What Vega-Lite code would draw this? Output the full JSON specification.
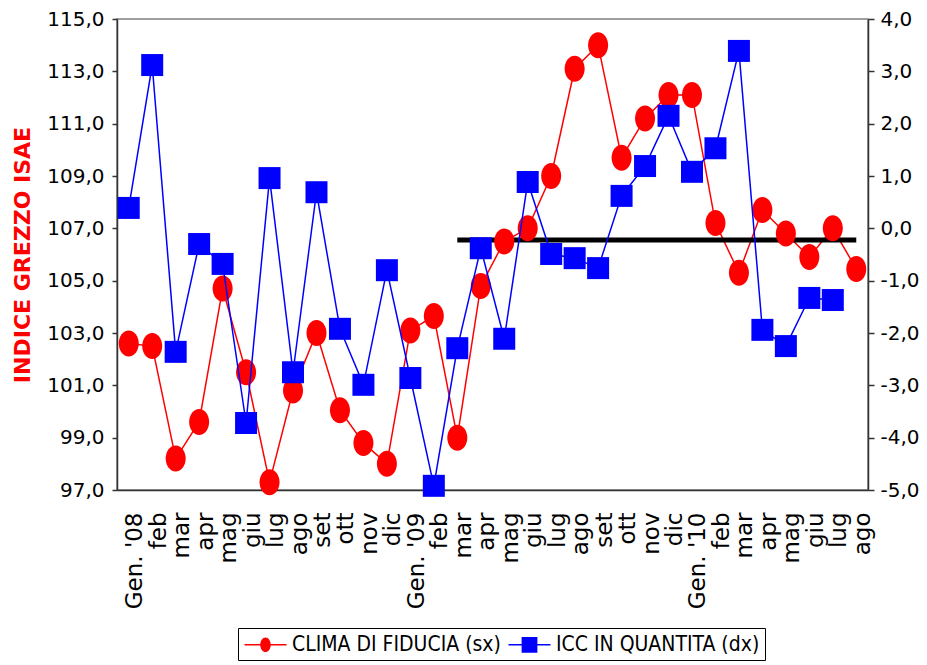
{
  "$schema": "https://vega.github.io/schema/vega-lite/v6.json",
  "width": 751,
  "height": 471,
  "autosize": "none",
  "padding": {"left": 117, "top": 19, "right": 59, "bottom": 175},
  "background": "white",
  "config": {
    "view": {"stroke": "#808080", "strokeWidth": 1.5},
    "font": "DejaVu Sans",
    "axis": {"grid": false, "domainColor": "#333333", "tickColor": "#333333", "labelColor": "black", "labelFont": "DejaVu Sans", "labelFontSize": 20, "domainWidth": 1.5, "tickWidth": 1.5}
  },
  "datasets": {
    "serie": [
      {"mese": "Gen. '08", "clima": 102.6, "icc": 0.39},
      {"mese": "feb_08", "clima": 102.5, "icc": 3.12},
      {"mese": "mar_08", "clima": 98.2, "icc": -2.36},
      {"mese": "apr_08", "clima": 99.6, "icc": -0.30},
      {"mese": "mag_08", "clima": 104.7, "icc": -0.68},
      {"mese": "giu_08", "clima": 101.5, "icc": -3.72},
      {"mese": "lug_08", "clima": 97.3, "icc": 0.96},
      {"mese": "ago_08", "clima": 100.8, "icc": -2.75},
      {"mese": "set_08", "clima": 103.0, "icc": 0.69},
      {"mese": "ott_08", "clima": 100.05, "icc": -1.92},
      {"mese": "nov_08", "clima": 98.8, "icc": -2.99},
      {"mese": "dic_08", "clima": 98.0, "icc": -0.80},
      {"mese": "Gen. '09", "clima": 103.1, "icc": -2.86},
      {"mese": "feb_09", "clima": 103.65, "icc": -4.92},
      {"mese": "mar_09", "clima": 99.0, "icc": -2.29},
      {"mese": "apr_09", "clima": 104.8, "icc": -0.38},
      {"mese": "mag_09", "clima": 106.5, "icc": -2.11},
      {"mese": "giu_09", "clima": 107.0, "icc": 0.885},
      {"mese": "lug_09", "clima": 109.0, "icc": -0.49},
      {"mese": "ago_09", "clima": 113.1, "icc": -0.57},
      {"mese": "set_09", "clima": 114.0, "icc": -0.76},
      {"mese": "ott_09", "clima": 109.7, "icc": 0.62},
      {"mese": "nov_09", "clima": 111.2, "icc": 1.19},
      {"mese": "dic_09", "clima": 112.1, "icc": 2.15},
      {"mese": "Gen. '10", "clima": 112.1, "icc": 1.08},
      {"mese": "feb_10", "clima": 107.2, "icc": 1.53},
      {"mese": "mar_10", "clima": 105.3, "icc": 3.39},
      {"mese": "apr_10", "clima": 107.7, "icc": -1.94},
      {"mese": "mag_10", "clima": 106.8, "icc": -2.25},
      {"mese": "giu_10", "clima": 105.9, "icc": -1.33},
      {"mese": "lug_10", "clima": 107.0, "icc": -1.37},
      {"mese": "ago_10", "clima": 105.45, "icc": null}
    ],
    "soglia": [
      {"da": "mar_09", "a": "ago_10", "livello": 106.55}
    ]
  },
  "encoding": {
    "x": {
      "field": "mese",
      "type": "ordinal",
      "sort": null,
      "scale": {"type": "point", "padding": 0.5},
      "axis": {
        "title": null,
        "labelAngle": -90,
        "labelAlign": "right",
        "labelBaseline": "middle",
        "labelFontSize": 23,
        "labelPadding": 22,
        "labelOffset": 6,
        "ticks": false,
        "labelExpr": "split(datum.value, '_')[0]"
      }
    }
  },
  "layer": [
    {
      "layer": [
        {
          "data": {"name": "serie"},
          "mark": {"type": "line", "color": "#ff0000", "strokeWidth": 1.5},
          "encoding": {
            "y": {"field": "clima", "type": "quantitative"}
          }
        },
        {
          "data": {"name": "soglia"},
          "mark": {"type": "rule", "color": "black", "strokeWidth": 5},
          "encoding": {
            "x": {"field": "da", "type": "ordinal", "sort": null},
            "x2": {"field": "a"},
            "y": {"field": "livello", "type": "quantitative"}
          }
        },
        {
          "data": {"name": "serie"},
          "mark": {"type": "point", "filled": true, "opacity": 1, "size": 676, "color": "#ff0000", "shape": "M0,-1A0.77,1 0 1,1 0,1A0.77,1 0 1,1 0,-1Z"},
          "encoding": {
            "y": {
              "field": "clima",
              "type": "quantitative",
              "scale": {"domain": [97, 115], "nice": false, "zero": false},
              "axis": {
                "orient": "left",
                "values": [97, 99, 101, 103, 105, 107, 109, 111, 113, 115],
                "labelExpr": "replace(replace(format(datum.value, '.1f'), '.', ','), '\u2212', '-')",
                "tickSize": 5,
                "labelPadding": 8,
                "title": "INDICE GREZZO ISAE",
                "titleColor": "#ff0000",
                "titleFont": "DejaVu Sans",
                "titleFontSize": 22,
                "titleFontWeight": "bold",
                "titlePadding": 12
              }
            }
          }
        },
        {
          "data": {"name": "soglia"},
          "mark": {"type": "point", "filled": true, "opacity": 1},
          "encoding": {
            "x": {"field": "da", "type": "ordinal", "sort": null},
            "y": {"field": "nessuno", "type": "quantitative"},
            "color": {
              "datum": "CLIMA DI FIDUCIA (sx)",
              "scale": {"domain": ["CLIMA DI FIDUCIA (sx)", "ICC IN QUANTITA (dx)"], "range": ["#ff0000", "#0000ff"]},
              "legend": {
                "orient": "none",
                "legendX": 121,
                "legendY": 609,
                "direction": "horizontal",
                "title": null,
                "strokeColor": "black",
                "padding": 5,
                "labelFont": "DejaVu Sans Condensed",
                "labelFontSize": 21,
                "labelColor": "black",
                "labelLimit": 0,
                "symbolSize": 441,
                "symbolOffset": 11,
                "labelOffset": 15,
                "columnPadding": 6
              }
            },
            "shape": {
              "datum": "CLIMA DI FIDUCIA (sx)",
              "scale": {"domain": ["CLIMA DI FIDUCIA (sx)", "ICC IN QUANTITA (dx)"], "range": ["M-2,-0.07H2V0.07H-2ZM0,-0.7A0.5,0.7 0 1,1 0,0.7A0.5,0.7 0 1,1 0,-0.7Z", "M-2,-0.07H2V0.07H-2ZM-0.75,-0.75H0.75V0.75H-0.75Z"]}
            }
          }
        }
      ]
    },
    {
      "layer": [
        {
          "data": {"name": "serie"},
          "mark": {"type": "line", "color": "#0000ff", "strokeWidth": 1.5},
          "encoding": {
            "y": {"field": "icc", "type": "quantitative"}
          }
        },
        {
          "data": {"name": "serie"},
          "mark": {"type": "point", "filled": true, "opacity": 1, "size": 484, "shape": "square", "color": "#0000ff"},
          "encoding": {
            "y": {
              "field": "icc",
              "type": "quantitative",
              "scale": {"domain": [-5, 4], "nice": false, "zero": false},
              "axis": {
                "orient": "right",
                "values": [-5, -4, -3, -2, -1, 0, 1, 2, 3, 4],
                "labelExpr": "replace(replace(format(datum.value, '.1f'), '.', ','), '\u2212', '-')",
                "tickSize": 6,
                "labelPadding": 6,
                "title": null
              }
            }
          }
        }
      ]
    }
  ],
  "resolve": {"scale": {"y": "independent"}}
}
